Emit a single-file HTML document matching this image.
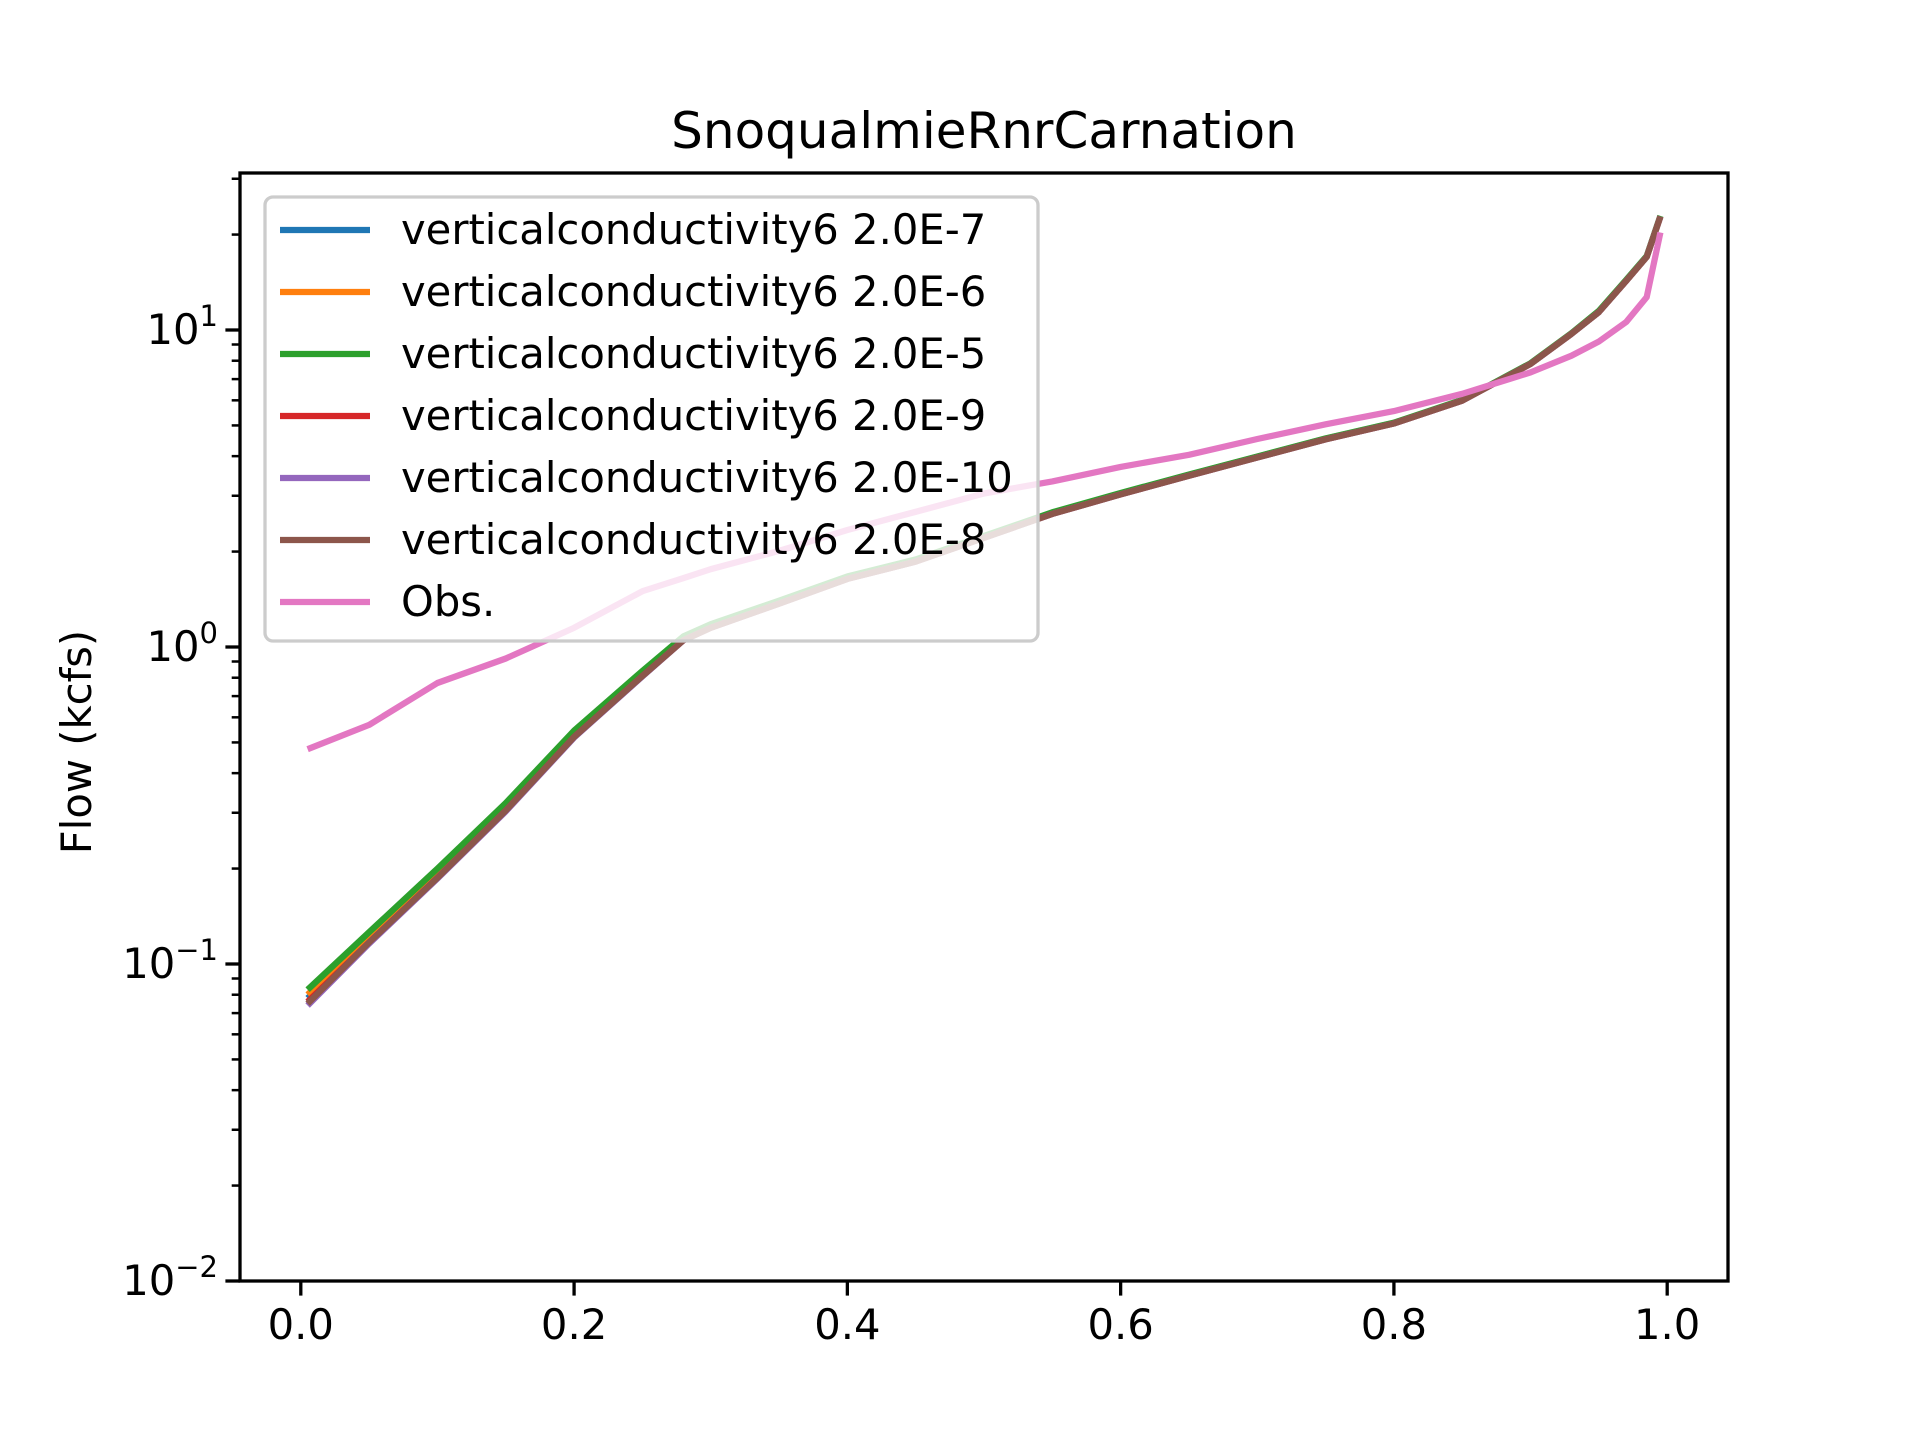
<!DOCTYPE html>
<html><head><meta charset="utf-8"><style>
html,body{margin:0;padding:0;background:#fff;}
svg{display:block;font-family:"DejaVu Sans","Liberation Sans",sans-serif;}
</style></head><body>
<svg id="chart" width="1920" height="1440" viewBox="0 0 1920 1440" xmlns="http://www.w3.org/2000/svg">
<rect width="1920" height="1440" fill="#fff"/>
<text x="984" y="148" font-size="50" text-anchor="middle">SnoqualmieRnrCarnation</text>
<text x="0" y="0" font-size="41.7" text-anchor="middle" transform="translate(91,742) rotate(-90)">Flow (kcfs)</text>
<g id="plot"></g>
<g id="axes"></g>
<g id="legend"></g>
</svg>
<script>
const xs = [0.005,0.05,0.1,0.15,0.2,0.25,0.28,0.3,0.35,0.4,0.45,0.5,0.55,0.6,0.65,0.7,0.75,0.8,0.85,0.9,0.93,0.95,0.97,0.985,0.995];
const modelBase = [0.075,0.117,0.187,0.305,0.52,0.81,1.05,1.15,1.37,1.64,1.86,2.21,2.63,3.03,3.47,3.96,4.52,5.07,5.99,7.82,9.73,11.4,14.3,17,22.8];
const s2e7 = [0.078,0.12,0.192,0.31,0.53,0.82,1.06,1.16,1.38,1.65,1.87,2.22,2.64,3.04,3.48,3.97,4.53,5.08,6.0,7.83,9.74,11.4,14.3,17,22.8];
const s2e6 = [0.08,0.122,0.195,0.315,0.535,0.83,1.07,1.17,1.39,1.66,1.88,2.23,2.65,3.05,3.49,3.98,4.54,5.09,6.0,7.84,9.75,11.4,14.3,17,22.8];
const s2e5 = [0.083,0.126,0.2,0.322,0.545,0.84,1.08,1.18,1.4,1.67,1.89,2.24,2.66,3.06,3.5,3.99,4.55,5.1,6.02,7.86,9.77,11.5,14.4,17.1,22.9];
const s2e9 = [0.076,0.117,0.187,0.305,0.52,0.81,1.05,1.15,1.37,1.64,1.86,2.21,2.63,3.03,3.47,3.96,4.52,5.07,5.99,7.82,9.73,11.4,14.3,17,22.8];
const s2e10 = [0.074,0.116,0.186,0.303,0.518,0.808,1.05,1.15,1.37,1.64,1.86,2.21,2.63,3.03,3.47,3.96,4.52,5.07,5.99,7.82,9.73,11.4,14.3,17,22.8];
const s2e8 = modelBase;
const obs = [0.476,0.568,0.77,0.92,1.15,1.5,1.65,1.76,2.01,2.34,2.67,3.05,3.33,3.7,4.04,4.53,5.04,5.55,6.29,7.35,8.3,9.2,10.6,12.7,20.3];
const seriesNames = ["verticalconductivity6 2.0E-7","verticalconductivity6 2.0E-6","verticalconductivity6 2.0E-5","verticalconductivity6 2.0E-9","verticalconductivity6 2.0E-10","verticalconductivity6 2.0E-8","Obs."];
const seriesColors = ["#1f77b4","#ff7f0e","#2ca02c","#d62728","#9467bd","#8c564b","#e377c2"];
const seriesData = [s2e7,s2e6,s2e5,s2e9,s2e10,s2e8,obs];
const xTicks = [0.0,0.2,0.4,0.6,0.8,1.0];
const xTickLabels = ["0.0","0.2","0.4","0.6","0.8","1.0"];
const yDecades = [-2,-1,0,1];

const L=240,R=1728,T=173,B=1281;
const xMin=-0.0445,xMax=1.0445;
const yMinLog=-2,yMaxLog=1+(330-T)/317;
function X(v){return L+(v-xMin)/(xMax-xMin)*(R-L);}
function Y(v){return B-(Math.log10(v)-yMinLog)/(yMaxLog-yMinLog)*(B-T);}
const NS="http://www.w3.org/2000/svg";
function mk(tag,attrs,parent){const e=document.createElementNS(NS,tag);for(const k in attrs)e.setAttribute(k,attrs[k]);parent.appendChild(e);return e;}

const plot=document.getElementById('plot');
const clip=mk('clipPath',{id:'clip'},plot);mk('rect',{x:L,y:T,width:R-L,height:B-T},clip);
seriesData.forEach((arr,i)=>{
  const d=arr.map((v,j)=>(j?'L':'M')+X(xs[j]).toFixed(1)+','+Y(v).toFixed(1)).join(' ');
  const p=mk('path',{d:d,fill:'none',stroke:seriesColors[i],'stroke-width':6.25,'stroke-linejoin':'round','clip-path':'url(#clip)'},plot);
  
  
});

const axes=document.getElementById('axes');
const frame=mk('rect',{x:L,y:T,width:R-L,height:B-T,fill:'none',stroke:'#000','stroke-width':3.3},axes);


xTicks.forEach((t,i)=>{
  const x=X(t);
  mk('line',{x1:x,y1:B,x2:x,y2:B+14.6,stroke:'#000','stroke-width':3.3},axes);
  const tx=mk('text',{x:x,y:B+58,'font-size':41.7,'text-anchor':'middle'},axes);
  tx.textContent=xTickLabels[i];
  
  
});
yDecades.forEach(dcd=>{
  const y=Y(Math.pow(10,dcd));
  mk('line',{x1:L-14.6,y1:y,x2:L,y2:y,stroke:'#000','stroke-width':3.3},axes);
  const tx=mk('text',{x:L-22,y:y+14,'font-size':41.7,'text-anchor':'end'},axes);
  
  
  const a=document.createElementNS(NS,'tspan');a.textContent='10';tx.appendChild(a);
  const b=document.createElementNS(NS,'tspan');b.setAttribute('dy','-18');b.setAttribute('font-size','29');b.textContent=(dcd<0?'\u2212':'')+Math.abs(dcd);tx.appendChild(b);
  for(let m=2;m<=9;m++){
    const v=m*Math.pow(10,dcd);const yy=Y(v);
    if(yy<T)continue;
    mk('line',{x1:L-8.3,y1:yy,x2:L,y2:yy,stroke:'#000','stroke-width':2.5},axes);
  }
});

const lg=document.getElementById('legend');
const box=mk('rect',{x:265,y:197,width:773,height:444,rx:8,fill:'#fff','fill-opacity':0.8,stroke:'#ccc','stroke-width':3.3},lg);


seriesNames.forEach((n,i)=>{
  const y=230+i*62;
  const g=mk('g',{},lg);
  
  
  mk('line',{x1:280,y1:y,x2:370,y2:y,stroke:seriesColors[i],'stroke-width':6.25},g);
  const t=mk('text',{x:401,y:y+14,'font-size':41.7},g);t.textContent=n;
});
</script>
</body></html>
